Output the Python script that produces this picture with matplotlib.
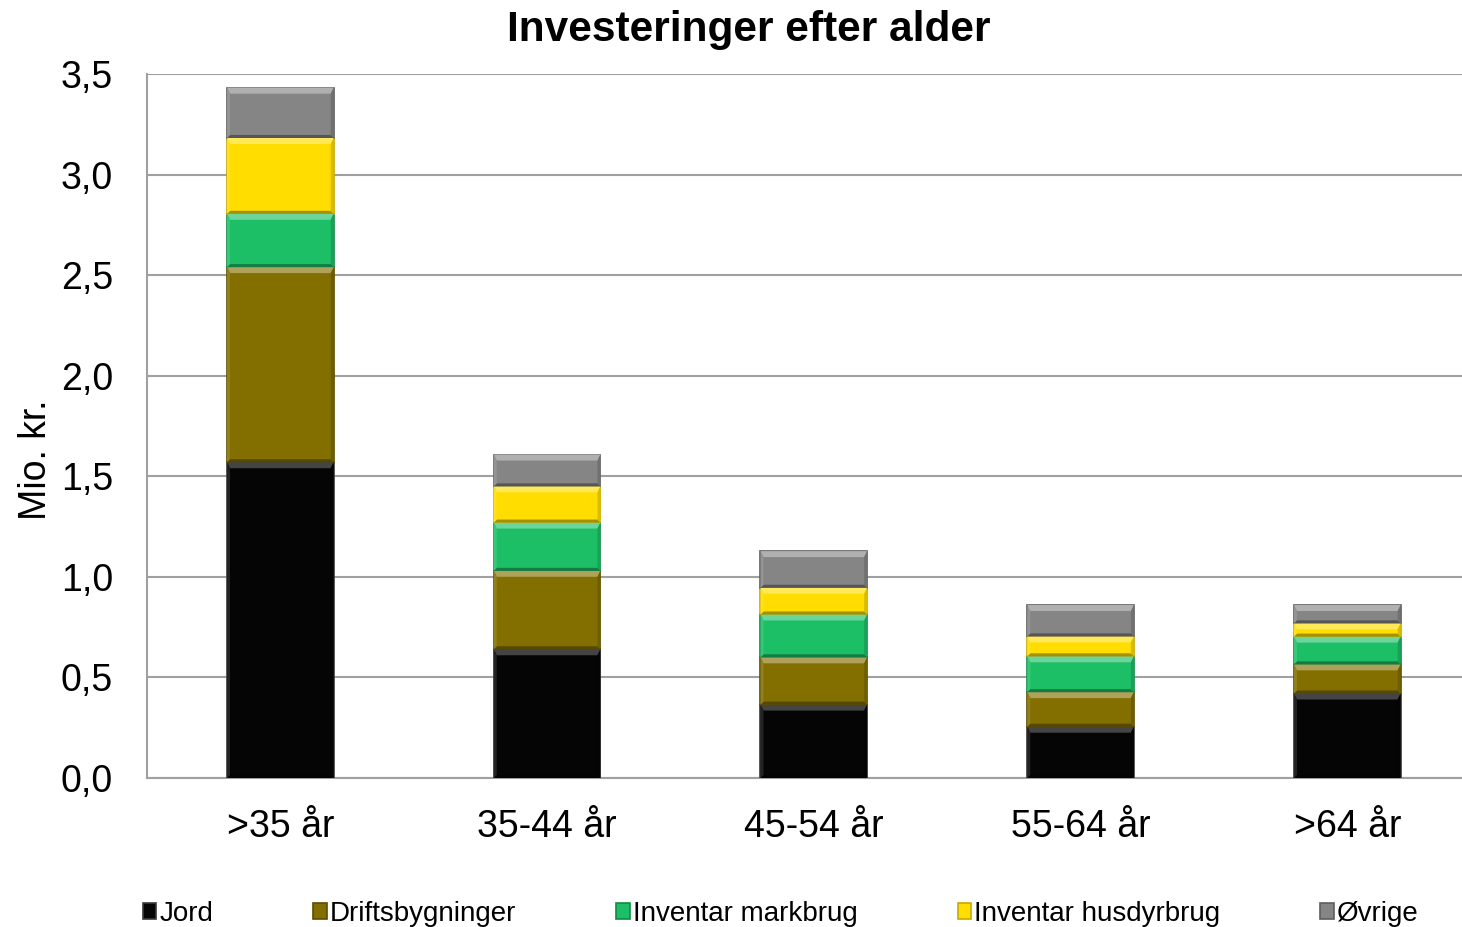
import numpy as np
import matplotlib.pyplot as plt
from matplotlib.colors import to_rgb
from matplotlib.patches import Polygon
from matplotlib.transforms import IdentityTransform

plt.rcParams['font.family'] = ['Liberation Sans', 'DejaVu Sans']

# data (Mio. kr.)
categories = ['>35 år', '35-44 år', '45-54 år', '55-64 år', '>64 år']
series_names = ['Jord', 'Driftsbygninger', 'Inventar markbrug', 'Inventar husdyrbrug', 'Øvrige']
jord = [1.57, 0.64, 0.365, 0.255, 0.42]
drift = [0.97, 0.39, 0.235, 0.172, 0.145]
mark = [0.265, 0.24, 0.213, 0.178, 0.138]
husdyr = [0.377, 0.18, 0.133, 0.099, 0.066]
oevrige = [0.25, 0.158, 0.182, 0.156, 0.091]
colors = ['#050505', '#836f00', '#1dbf66', '#ffdd00', '#858585']
edges = ['#3a3a3a', '#5c4e00', '#128a48', '#c9a800', '#5e5e5e']


def mix(c, other, f):
    c = np.array(to_rgb(c))
    return tuple(c * (1 - f) + np.array(other) * f)


fig = plt.figure(figsize=(14.62, 9.27), dpi=100)
ax = fig.add_axes([147/1462, 1-778/927, 1-147/1462, (778-74)/927])

x = np.arange(len(categories))
bottom = np.zeros(len(categories))
handles = []
for vals, name, c, ec in zip([jord, drift, mark, husdyr, oevrige], series_names, colors, edges):
    vals = np.array(vals)
    b = ax.bar(x, vals, 0.4, bottom=bottom, color=c, edgecolor=ec, linewidth=1.2,
               label=name, zorder=3)
    handles.append(b)
    bottom += vals

ax.set_ylim(0, 3.5)
ax.set_xlim(-0.5, 4.43)

# bevel look: lighter top edge, darker bottom edge on each segment
for b, c in zip(handles, colors):
    light = mix(c, (1, 1, 1), 0.35 if c != '#050505' else 0.25)
    dark = mix(c, (0, 0, 0), 0.35)
    for p in b.patches:
        (x0, y0), (x1, y1) = ax.transData.transform(
            [(p.get_x(), p.get_y()), (p.get_x() + p.get_width(), p.get_y() + p.get_height())])
        t, s, d = 6, 3, 3
        polys = [
            ([(x0, y1), (x1, y1), (x1 - s, y1 - t), (x0 + s, y1 - t)], light),
            ([(x0, y0), (x1, y0), (x1 - s, y0 + d), (x0 + s, y0 + d)], dark),
            ([(x0, y0), (x0 + s, y0 + d), (x0 + s, y1 - t), (x0, y1)], mix(c, (1, 1, 1), 0.12)),
            ([(x1, y0), (x1 - s, y0 + d), (x1 - s, y1 - t), (x1, y1)], mix(c, (0, 0, 0), 0.15)),
        ]
        for pts, col in polys:
            ax.add_patch(Polygon(pts, closed=True, facecolor=col, edgecolor='none',
                                 transform=IdentityTransform(), zorder=4))

ax.set_yticks(np.arange(0, 3.51, 0.5))
ax.set_yticklabels([f'{v:.1f}'.replace('.', ',') for v in np.arange(0, 3.51, 0.5)])
ax.set_xticks(x)
ax.set_xticklabels(categories)
ax.tick_params(axis='both', length=0, labelsize=27)
ax.tick_params(axis='y', pad=24.5)
ax.tick_params(axis='x', pad=22)
ax.yaxis.grid(True, color='#a0a0a0', linewidth=1.5, zorder=0)
ax.set_axisbelow(True)
for s in ['top', 'right']:
    ax.spines[s].set_visible(False)
for s in ['left', 'bottom']:
    ax.spines[s].set_color('#a0a0a0')
    ax.spines[s].set_linewidth(1.5)

ax.set_ylabel('Mio. kr.', fontsize=27)
ax.yaxis.set_label_coords(-0.071, 0.452)
fig.text(0.512, 1-30/927, 'Investeringer efter alder', ha='center', va='center',
         fontsize=30.5, fontweight='bold')

fig.legend(handles=handles, loc='center', bbox_to_anchor=(0.534, 0.0145), ncol=5,
           frameon=False, fontsize=20, columnspacing=3.6, handlelength=0.5,
           handleheight=0.5, handletextpad=0.1)

fig.savefig('out.png', dpi=100)
